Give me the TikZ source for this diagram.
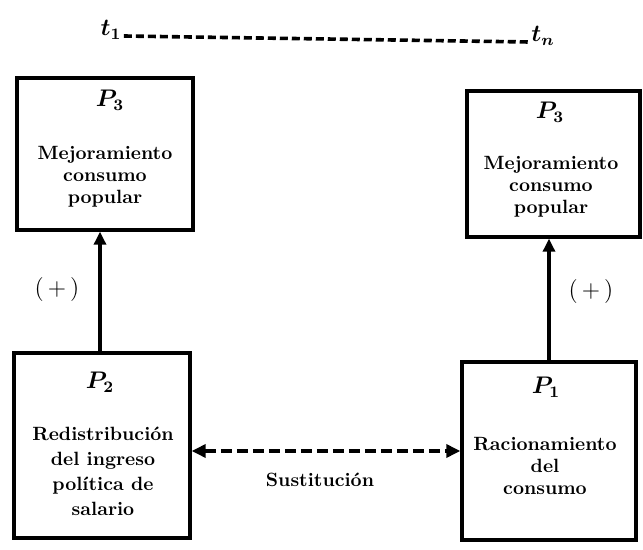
\documentclass[tikz,border=0pt]{standalone}
\usepackage{amsmath}
\usetikzlibrary{arrows.meta,calc}

\begin{document}
\begin{tikzpicture}[x=0.5pt,y=-0.5pt,
  caja/.style={draw, line width=1.7pt, inner sep=0pt},
  titulo/.style={font=\large\boldmath\bfseries, inner sep=1pt},
  cuerpo/.style={font=\fontsize{9.6}{11}\selectfont\bfseries, align=center, inner sep=1pt},
  flecha/.style={line width=1.6pt, -{Triangle[length=6.5pt,width=6pt]}},
  signo/.style={font=\large, inner sep=1pt}]
\useasboundingbox (0,0) rectangle (643,550);

%time axis
\node[titulo, anchor=base] (t1) at (111,36) {$t_1$};
\node[titulo, anchor=base] (tn) at (543,42) {$t_n$};
\draw[line width=1.8pt, dash pattern=on 4pt off 2pt] (t1.base east) -- (tn.base west);

%boxes
\node[caja, minimum width=88pt, minimum height=76pt] (p3i) at (105,154) {};
\node[caja, minimum width=86.5pt, minimum height=73pt] (p3d) at (553.5,164) {};
\node[caja, minimum width=88pt, minimum height=92.5pt] (p2) at (102,445.5) {};
\node[caja, minimum width=87pt, minimum height=89pt] (p1) at (549,451) {};

%labels inside boxes
\node[titulo] (tit3i) at (110,100) {$P_3$};
\node[cuerpo] (txt3i) at (105,177) {Mejoramiento\\consumo\\popular};
\node[titulo] (tit3d) at (550,112) {$P_3$};
\node[cuerpo] (txt3d) at (551,187) {Mejoramiento\\consumo\\popular};
\node[titulo] (tit2) at (100,382) {$P_2$};
\node[cuerpo, font=\fontsize{9.6}{12.5}\selectfont\bfseries] (txt2) at (103,471) {Redistribución\\del ingreso\\política de\\salario};
\node[titulo] (tit1) at (546,387) {$P_1$};
\node[cuerpo] (txt1) at (545,466) {Racionamiento\\del\\consumo};

%vertical arrows
\draw[flecha] ([xshift=-1pt]p2.north) -- ([xshift=-1pt]p2.north |- p3i.south);
\draw[flecha] (p1.north) -- (p1.north |- p3d.south);
\node[signo] (mas1) at (57,290) {(\,+\,)};
\node[signo] (mas2) at (591,292) {(\,+\,)};

%substitution
\draw[line width=1.7pt, dash pattern=on 5.5pt off 2.5pt,
  {Triangle[length=7pt,width=6.5pt]}-{Triangle[length=7pt,width=6.5pt]}] (p2.east |- p1.west) -- (p1.west);
\node[cuerpo] (sust) at (320,480) {Sustitución};
\end{tikzpicture}
\end{document}
